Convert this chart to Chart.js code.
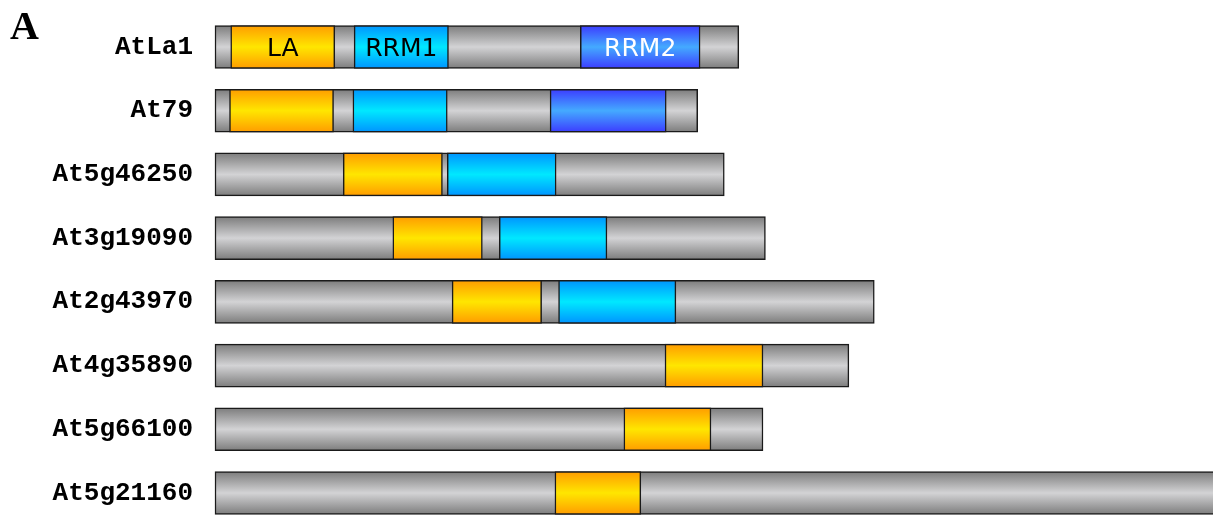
<!DOCTYPE html>
<html>
<head>
<meta charset="utf-8">
<script src="https://cdn.jsdelivr.net/npm/chart.js@4.4.0/dist/chart.umd.min.js"></script>
<style>
  html, body { margin: 0; padding: 0; background: #fff; }
  #wrap { position: relative; width: 1213px; height: 515px; }
  #panel { position: absolute; left: 10px; top: 2px; font: bold 40px 'Liberation Serif', serif; color: #000; }
</style>
</head>
<body>
<div id="wrap">
  <canvas id="grafico"></canvas>
  <div id="panel">A</div>
</div>
<script>
// proteínas (aa) e domínios [início, fim]
const proteinas = ['AtLa1', 'At79', 'At5g46250', 'At3g19090', 'At2g43970', 'At4g35890', 'At5g66100', 'At5g21160'];
const comprimento = [433, 399, 421, 455, 545, 524, 453, 826];
const dominioLA = [[13, 99], [12, 98], [106, 188], [147, 221], [196, 270], [372, 453], [338, 410], [281, 352]];
const dominioRRM1 = [[115, 193], [114, 192], [192, 282], [235, 324], [284, 381], null, null, null];
const dominioRRM2 = [[302, 401], [277, 373], null, null, null, null, null, null];
const rotulosDominio = ['LA', 'RRM1', 'RRM2'];
const eixoMax = 825;

const ALT = 43;
const cores = {
  cinza: ['#7c7c7c', '#d3d3d5'],
  la: ['#ff9c00', '#ffe600'],
  rrm1: ['#0094ff', '#00e8ff'],
  rrm2: ['#3c3cff', '#44aaff'],
};

function grad(stops) {
  return (ctx) => {
    const ch = ctx.chart, y = ch.scales.y;
    if (!y || ctx.dataIndex == null) return stops[1];
    const yc = y.getPixelForValue(ctx.dataIndex);
    if (!isFinite(yc)) return stops[1];
    const g = ch.ctx.createLinearGradient(0, yc - ALT / 2, 0, yc + ALT / 2);
    g.addColorStop(0, stops[0]);
    g.addColorStop(0.5, stops[1]);
    g.addColorStop(1, stops[0]);
    return g;
  };
}

// ordem maior = desenhado antes (fica por baixo)
const serie = (label, data, c, order) => ({
  label, data, order, backgroundColor: grad(c), borderColor: '#1a1a1a', borderWidth: 1.5,
  borderSkipped: false, grouped: false, barThickness: ALT, clip: false,
});

// nomes dos domínios dentro da primeira proteína
const nomesDominio = {
  id: 'nomesDominio',
  afterDatasetsDraw(chart) {
    const c = chart.ctx;
    c.save();
    c.font = '25px "DejaVu Sans", sans-serif';
    c.textAlign = 'center';
    c.textBaseline = 'middle';
    rotulosDominio.forEach((txt, i) => {
      const el = chart.getDatasetMeta(i + 1).data[0];
      if (!el) return;
      c.fillStyle = i === 2 ? '#ffffff' : '#000000';
      c.fillText(txt, (el.x + el.base) / 2, el.y + 2);
    });
    c.restore();
  }
};

new Chart(document.getElementById('grafico'), {
  type: 'bar',
  data: {
    labels: proteinas,
    datasets: [
      serie('proteína', comprimento.map(v => [0, v]), cores.cinza, 10),
      serie('LA', dominioLA, cores.la, 1),
      serie('RRM1', dominioRRM1, cores.rrm1, 1),
      serie('RRM2', dominioRRM2, cores.rrm2, 1),
    ],
  },
  options: {
    indexAxis: 'y', responsive: true, maintainAspectRatio: false, animation: false,
    layout: { padding: { top: 47, bottom: 22, left: 0, right: 0 } },
    plugins: { legend: { display: false }, tooltip: { enabled: false } },
    scales: {
      x: { display: false, min: 0, max: eixoMax },
      y: {
        offset: false,
        grid: { display: false, drawTicks: false }, border: { display: false },
        ticks: { color: '#000', padding: 22, font: { family: 'Liberation Mono', weight: 'bold', size: 26 } },
        afterFit: (s) => { s.width = 215; s.paddingTop = 0; s.paddingBottom = 0; },
      },
    },
  },
  plugins: [nomesDominio],
});
</script>
</body>
</html>
